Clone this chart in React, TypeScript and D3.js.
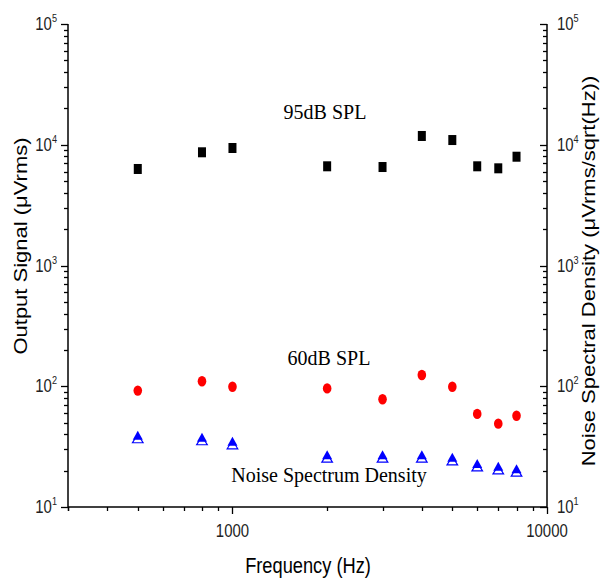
import React from "react";
import * as d3 from "d3";

const freqs = [500, 800, 1000, 2000, 3000, 4000, 5000, 6000, 7000, 8000];
const spl95 = [6300, 8660, 9400, 6630, 6540, 11820, 10940, 6630, 6380, 7960];
const spl60 = [92, 110, 99, 96, 78, 124, 99, 59, 49, 57];
const noise = [37.8, 36.4, 33.7, 26.1, 26.1, 26.1, 24.8, 22.1, 20.9, 20.0];
const yMajor = [10, 100, 1000, 10000, 100000];
const yExp = ["1", "2", "3", "4", "5"];
const xMajor = [1000, 10000];
const xMajorLabels = ["1000", "10000"];

const W = 600;
const H = 578;
const L = 68, R = 547, T = 24, B = 507;
const SX = 0.83;
const SANS = "Arial, 'Liberation Sans', sans-serif";
const SERIF = "'Times New Roman', 'Liberation Serif', serif";

export default function App() {
  const x = d3.scaleLog().domain([300, 10000]).range([L, R]);
  const y = d3.scaleLog().domain([10, 100000]).range([B, T]);

  const xMinor: number[] = [];
  for (const dec of [100, 1000]) for (let k = 2; k <= 9; k++) { const v = k * dec; if (v >= 300 && v < 10000 && v !== 1000) xMinor.push(v); }
  const yMinor: number[] = [];
  for (const dec of [10, 100, 1000, 10000]) for (let k = 2; k <= 9; k++) yMinor.push(k * dec);

  const fx = (v: number) => Math.round(x(v)) + 0.5;
  const fy = (v: number) => Math.round(y(v)) + 0.5;

  return (
    <svg width={W} height={H} style={{ position: "absolute", left: 0, top: 0, background: "#fff" }}>
      <rect x={0} y={0} width={W} height={H} fill="#fff" />
      {/* axes lines */}
      <g stroke="#000" strokeWidth={1.5} fill="none">
        <line x1={L} y1={T} x2={L} y2={B} />
        <line x1={R} y1={T} x2={R} y2={B} />
        <line x1={L} y1={B} x2={R} y2={B} />
      </g>
      {/* left ticks (outward) */}
      <g stroke="#000" strokeWidth={1.3}>
        {yMajor.map((v) => <line key={"lm" + v} x1={L - 7} x2={L} y1={fy(v)} y2={fy(v)} />)}
        {yMinor.map((v) => <line key={"ln" + v} x1={L - 4} x2={L} y1={fy(v)} y2={fy(v)} />)}
        {yMajor.map((v) => <line key={"rm" + v} x1={R - 7} x2={R} y1={fy(v)} y2={fy(v)} />)}
        {yMinor.map((v) => <line key={"rn" + v} x1={R - 4} x2={R} y1={fy(v)} y2={fy(v)} />)}
        {xMajor.map((v) => <line key={"bm" + v} x1={fx(v)} x2={fx(v)} y1={B} y2={B + 7} />)}
        {xMinor.map((v) => <line key={"bn" + v} x1={fx(v)} x2={fx(v)} y1={B} y2={B + 4} />)}
        <line x1={fx(300)} x2={fx(300)} y1={B} y2={B + 4} />
      </g>
      {/* y tick labels */}
      {yMajor.map((v, i) => (
        <g key={"yl" + v}>
          <g transform={`translate(57,${y(v) + 6}) scale(${SX},1)`}>
            <text textAnchor="end" fontFamily={SANS} fontSize={18} fill="#222">
              10<tspan dy={-8} fontSize={11}>{yExp[i]}</tspan>
            </text>
          </g>
          <g transform={`translate(557,${y(v) + 6}) scale(${SX},1)`}>
            <text textAnchor="start" fontFamily={SANS} fontSize={18} fill="#222">
              10<tspan dy={-8} fontSize={11}>{yExp[i]}</tspan>
            </text>
          </g>
        </g>
      ))}
      {/* x tick labels */}
      {xMajor.map((v, i) => (
        <g key={"xl" + v} transform={`translate(${x(v)},537) scale(${SX},1)`}>
          <text textAnchor="middle" fontFamily={SANS} fontSize={18} fill="#222">{xMajorLabels[i]}</text>
        </g>
      ))}
      {/* axis titles */}
      <g transform={`translate(308,573) scale(${SX},1)`}>
        <text textAnchor="middle" fontFamily={SANS} fontSize={22} fill="#000">Frequency (Hz)</text>
      </g>
      <g transform={`translate(27,246) rotate(-90)`}>
        <text textAnchor="middle" fontFamily={SANS} fontSize={22} fill="#000" transform={`scale(1,${SX})`}>Output Signal (μVrms)</text>
      </g>
      <g transform={`translate(595,271) rotate(-90)`}>
        <text textAnchor="middle" fontFamily={SANS} fontSize={22} fill="#000" transform={`scale(1,${SX})`}>Noise Spectral Density (μVrms/sqrt(Hz))</text>
      </g>
      {/* series labels */}
      <text x={325} y={119} textAnchor="middle" fontFamily={SERIF} fontSize={20} fill="#000">95dB SPL</text>
      <text x={329} y={365} textAnchor="middle" fontFamily={SERIF} fontSize={20} fill="#000">60dB SPL</text>
      <text x={329} y={482} textAnchor="middle" fontFamily={SERIF} fontSize={20} fill="#000">Noise Spectrum Density</text>
      {/* markers */}
      {freqs.map((f, i) => (
        <rect key={"s" + f} x={x(f) - 4} y={y(spl95[i]) - 5} width={8} height={10} fill="#000" />
      ))}
      {freqs.map((f, i) => (
        <ellipse key={"c" + f} cx={x(f)} cy={y(spl60[i])} rx={4.3} ry={5.2} fill="#ff0000" />
      ))}
      {freqs.map((f, i) => {
        const cx = x(f);
        const cy = y(noise[i]);
        return (
          <g key={"t" + f}>
            <path d={`M${cx},${cy - 3} L${cx + 5.3},${cy + 5.5} L${cx - 5.3},${cy + 5.5} Z`} fill="#fff" stroke="#0000ff" strokeWidth={1.2} />
            <path d={`M${cx},${cy - 6.5} L${cx + 5},${cy + 2.5} L${cx - 5},${cy + 2.5} Z`} fill="#0000ff" />
          </g>
        );
      })}
    </svg>
  );
}
